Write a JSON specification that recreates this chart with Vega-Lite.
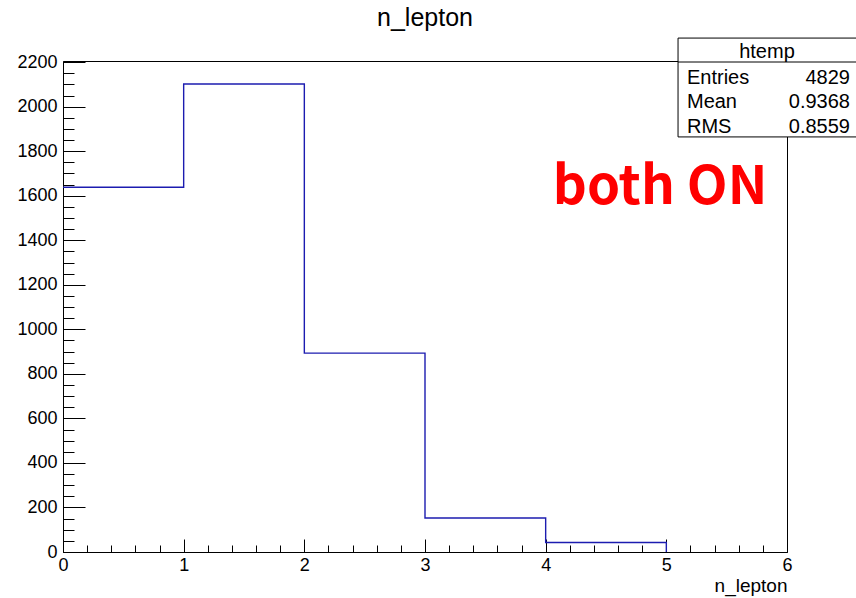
{
  "$schema": "https://vega.github.io/schema/vega-lite/v6.json",
  "autosize": {"type": "none"},
  "padding": {"left": 63, "top": 61, "right": 69, "bottom": 46},
  "width": 724,
  "height": 491,
  "background": "white",
  "config": {
    "view": {"stroke": "black", "strokeWidth": 1},
    "font": "Liberation Sans"
  },
  "title": {
    "text": "n_lepton",
    "font": "Liberation Sans",
    "fontSize": 25,
    "fontWeight": "normal",
    "color": "black",
    "anchor": "middle",
    "frame": "group",
    "baseline": "alphabetic",
    "offset": 11,
    "dy": 24
  },
  "datasets": {
    "hist": [
      {"order": 1, "x": 0, "count": 1638},
      {"order": 2, "x": 1, "count": 2102},
      {"order": 3, "x": 2, "count": 893},
      {"order": 4, "x": 3, "count": 153},
      {"order": 5, "x": 4, "count": 43},
      {"order": 6, "x": 5, "count": 0}
    ],
    "box": [{"x": 5.097, "x2": 6.75, "y": 2308, "y2": 1864, "yh": 2200.5}],
    "stats": [
      {"label": "Entries", "value": "4829", "lx": 5.171, "rx": 6.522, "y": 2129},
      {"label": "Mean", "value": "0.9368", "lx": 5.171, "rx": 6.522, "y": 2021},
      {"label": "RMS", "value": "0.8559", "lx": 5.171, "rx": 6.522, "y": 1909}
    ],
    "head": [{"text": "htemp", "x": 5.834, "y": 2245}],
    "note": [{"text": "both ON", "x": 4.948, "y": 1635}]
  },
  "layer": [
    {
      "data": {"name": "hist"},
      "mark": {"type": "line", "interpolate": "step-after", "color": "#1c1cb0", "strokeWidth": 1.4},
      "encoding": {
        "order": {"field": "order", "type": "quantitative"},
        "x": {
          "field": "x", "type": "quantitative",
          "scale": {"domain": [0, 6], "nice": false, "zero": false},
          "axis": {
            "values": [0, 0.2, 0.4, 0.6, 0.8, 1, 1.2, 1.4, 1.6, 1.8, 2, 2.2, 2.4, 2.6, 2.8, 3, 3.2, 3.4, 3.6, 3.8, 4, 4.2, 4.4, 4.6, 4.8, 5, 5.2, 5.4, 5.6, 5.8, 6],
            "tickCount": 1000,
            "labelExpr": "abs(datum.value - round(datum.value)) < 1e-6 ? format(datum.value, 'd') : ''",
            "tickSize": {"condition": {"test": "abs(datum.value - round(datum.value)) < 1e-6", "value": -13}, "value": -7},
            "tickColor": "black",
            "tickWidth": 1,
            "domainColor": "black",
            "grid": false,
            "labelFont": "Liberation Sans",
            "labelFontSize": 18,
            "labelColor": "black",
            "labelPadding": 17,
            "labelOverlap": false,
            "labelBound": false,
            "labelFlush": false,
            "title": "n_lepton",
            "titleFont": "Liberation Sans",
            "titleFontSize": 19,
            "titleFontWeight": "normal",
            "titleColor": "black",
            "titleAnchor": "end",
            "titleAlign": "right",
            "titleBaseline": "alphabetic",
            "titleX": 724,
            "titleY": 39
          }
        },
        "y": {
          "field": "count", "type": "quantitative",
          "scale": {"domain": [0, 2205], "nice": false, "zero": true},
          "axis": {
            "values": [0, 50, 100, 150, 200, 250, 300, 350, 400, 450, 500, 550, 600, 650, 700, 750, 800, 850, 900, 950, 1000, 1050, 1100, 1150, 1200, 1250, 1300, 1350, 1400, 1450, 1500, 1550, 1600, 1650, 1700, 1750, 1800, 1850, 1900, 1950, 2000, 2050, 2100, 2150, 2200],
            "tickCount": 1000,
            "labelExpr": "datum.value % 200 === 0 ? format(datum.value, 'd') : ''",
            "tickSize": {"condition": {"test": "datum.value % 200 === 0", "value": -22}, "value": -11},
            "tickColor": "black",
            "tickWidth": 1,
            "domainColor": "black",
            "grid": false,
            "labelFont": "Liberation Sans",
            "labelFontSize": 18,
            "labelColor": "black",
            "labelPadding": 28,
            "labelOverlap": false,
            "labelBound": false,
            "labelFlush": false,
            "title": null
          }
        }
      }
    },
    {
      "data": {"name": "box"},
      "mark": {"type": "rect", "fill": "white", "stroke": "black", "strokeWidth": 1, "clip": false},
      "encoding": {
        "x": {"field": "x", "type": "quantitative"},
        "x2": {"field": "x2"},
        "y": {"field": "y", "type": "quantitative"},
        "y2": {"field": "y2"}
      }
    },
    {
      "data": {"name": "box"},
      "mark": {"type": "rule", "stroke": "black", "strokeWidth": 1, "clip": false},
      "encoding": {
        "x": {"field": "x", "type": "quantitative"},
        "x2": {"field": "x2"},
        "y": {"field": "yh", "type": "quantitative"}
      }
    },
    {
      "data": {"name": "head"},
      "mark": {"type": "text", "font": "Liberation Sans", "fontSize": 20, "color": "black", "align": "center", "baseline": "middle"},
      "encoding": {
        "x": {"field": "x", "type": "quantitative"},
        "y": {"field": "y", "type": "quantitative"},
        "text": {"field": "text"}
      }
    },
    {
      "data": {"name": "stats"},
      "mark": {"type": "text", "font": "Liberation Sans", "fontSize": 20, "color": "black", "align": "left", "baseline": "middle"},
      "encoding": {
        "x": {"field": "lx", "type": "quantitative"},
        "y": {"field": "y", "type": "quantitative"},
        "text": {"field": "label"}
      }
    },
    {
      "data": {"name": "stats"},
      "mark": {"type": "text", "font": "Liberation Sans", "fontSize": 20, "color": "black", "align": "right", "baseline": "middle"},
      "encoding": {
        "x": {"field": "rx", "type": "quantitative"},
        "y": {"field": "y", "type": "quantitative"},
        "text": {"field": "value"}
      }
    },
    {
      "data": {"name": "note"},
      "mark": {"type": "text", "font": "Noto Sans CJK JP", "fontSize": 53, "fontWeight": "bold", "color": "#ff0000", "align": "center", "baseline": "middle"},
      "encoding": {
        "x": {"field": "x", "type": "quantitative"},
        "y": {"field": "y", "type": "quantitative"},
        "text": {"field": "text"}
      }
    }
  ]
}
